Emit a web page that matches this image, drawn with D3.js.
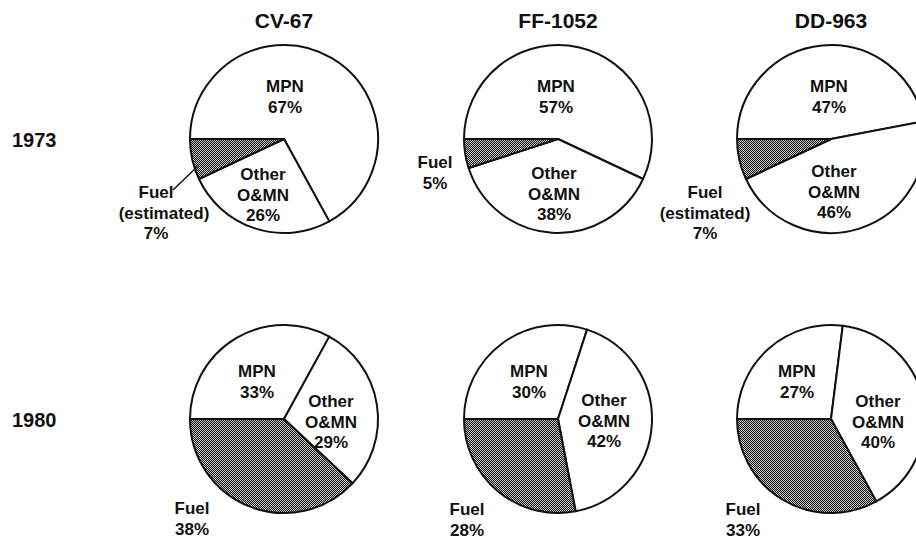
<!DOCTYPE html>
<html>
<head>
<meta charset="utf-8">
<script src="https://cdn.jsdelivr.net/npm/d3@7"></script>
<style>
  body { margin: 0; background: #fff; }
  svg { display: block; font-family: "Liberation Sans", Arial, Helvetica, sans-serif; }
  text { fill: #111; font-weight: bold; }
</style>
</head>
<body>
<svg id="chart" width="916" height="542"></svg>
<script>
// data (percent of operating cost)
const ships = ["CV-67", "FF-1052", "DD-963"];
const years = ["1973", "1980"];
const categories = ["MPN", "Other O&MN", "Fuel"];

const mpn1973 = [67, 57, 47];
const other1973 = [26, 38, 46];
const fuel1973 = [7, 5, 7];
const fuelEstimated1973 = [true, false, true];

const mpn1980 = [33, 30, 27];
const other1980 = [29, 42, 40];
const fuel1980 = [38, 28, 33];
const fuelEstimated1980 = [false, false, false];

// layout
const cxs = [284, 558, 831];
const cys = [139, 419];
const radius = 94;
const lineH = 20.5;

// label anchor offsets from pie centre: [dx, first baseline dy] per slice
const labelPos = {
  "1973": [
    { MPN: [1, -47], Other: [-21, 41], Fuel: [-128, 59], est: 8 },
    { MPN: [-2, -47], Other: [-4, 40], Fuel: [-123, 29], est: 0 },
    { MPN: [-2, -47], Other: [3, 38], Fuel: [-126, 59], est: 0 }
  ],
  "1980": [
    { MPN: [-27, -42], Other: [47, -12], Fuel: [-92, 95], est: 0 },
    { MPN: [-29, -42], Other: [46, -13], Fuel: [-91, 96], est: 0 },
    { MPN: [-34, -42], Other: [47, -12], Fuel: [-88, 96], est: 0 }
  ]
};

const svg = d3.select("#chart");

// dithered fill for the fuel slice
const defs = svg.append("defs");
const pat = defs.append("pattern")
  .attr("id", "dither")
  .attr("width", 2).attr("height", 2)
  .attr("patternUnits", "userSpaceOnUse");
pat.append("rect").attr("width", 2).attr("height", 2).attr("fill", "#c8c8c8");
pat.append("rect").attr("x", 0).attr("y", 0).attr("width", 1).attr("height", 1).attr("fill", "#111");
pat.append("rect").attr("x", 1).attr("y", 1).attr("width", 1).attr("height", 1).attr("fill", "#111");

const pie = d3.pie()
  .sort(null)
  .value(d => d.value)
  .startAngle(-Math.PI / 2)
  .endAngle(3 * Math.PI / 2);

const arc = d3.arc().innerRadius(0).outerRadius(radius);

// column titles
svg.selectAll("text.title")
  .data(ships)
  .enter()
  .append("text")
  .attr("class", "title")
  .attr("x", (d, i) => cxs[i])
  .attr("y", 28)
  .attr("text-anchor", "middle")
  .style("font-size", "21px")
  .text(d => d);

// row labels
svg.selectAll("text.year")
  .data(years)
  .enter()
  .append("text")
  .attr("class", "year")
  .attr("x", 12)
  .attr("y", (d, i) => cys[i] + 8)
  .style("font-size", "20px")
  .text(d => d);

function drawRow(yi, mpn, other, fuel, estimated) {
  const year = years[yi];
  ships.forEach((ship, si) => {
    const values = [
      { key: "MPN", value: mpn[si] },
      { key: "Other", value: other[si] },
      { key: "Fuel", value: fuel[si] }
    ];
    const g = svg.append("g")
      .attr("transform", "translate(" + cxs[si] + "," + cys[yi] + ")");

    g.selectAll("path")
      .data(pie(values))
      .enter()
      .append("path")
      .attr("d", arc)
      .attr("fill", d => d.data.key === "Fuel" ? "url(#dither)" : "#fff")
      .attr("stroke", "#111")
      .attr("stroke-width", 2)
      .attr("stroke-linejoin", "round");

    const pos = labelPos[year][si];
    values.forEach(v => {
      let lines;
      if (v.key === "MPN") lines = ["MPN", v.value + "%"];
      else if (v.key === "Other") lines = ["Other", "O&MN", v.value + "%"];
      else lines = estimated[si] ? ["Fuel", "(estimated)", v.value + "%"] : ["Fuel", v.value + "%"];
      const p = pos[v.key];
      const t = g.append("text")
        .attr("text-anchor", "middle")
        .style("font-size", "17px");
      lines.forEach((l, li) => {
        t.append("tspan")
          .attr("x", p[0] + (l === "(estimated)" ? pos.est : 0))
          .attr("y", p[1] + li * lineH)
          .text(l);
      });
    });

    // leader line from the CV-67 1973 fuel label into its slice
    if (year === "1973" && ship === "CV-67") {
      g.append("line")
        .attr("x1", -111).attr("y1", 51)
        .attr("x2", -86).attr("y2", 27)
        .attr("stroke", "#111")
        .attr("stroke-width", 1.5);
    }
  });
}

drawRow(0, mpn1973, other1973, fuel1973, fuelEstimated1973);
drawRow(1, mpn1980, other1980, fuel1980, fuelEstimated1980);
</script>
</body>
</html>
